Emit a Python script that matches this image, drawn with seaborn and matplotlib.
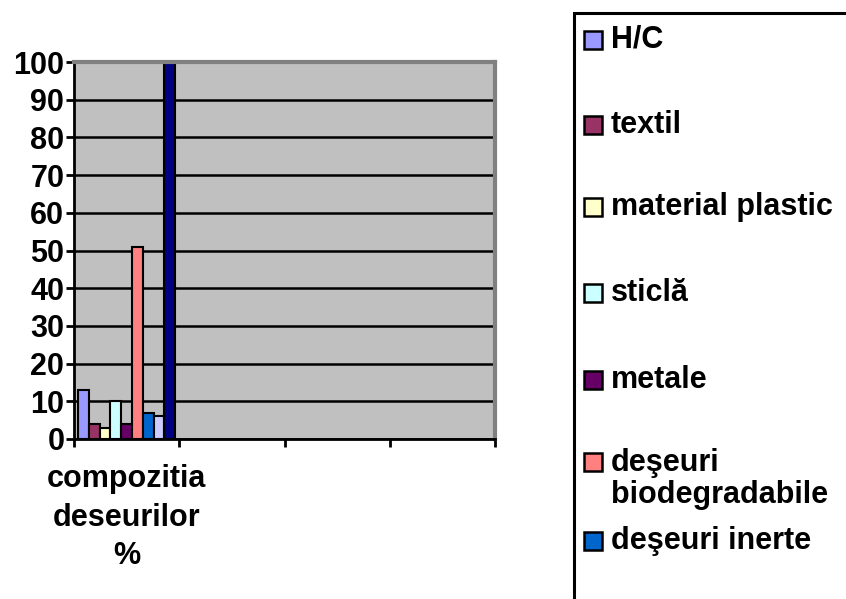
import pandas as pd
import matplotlib.pyplot as plt
import seaborn as sns
from matplotlib.patches import Rectangle

# date
categorii = ["compozitia\ndeseurilor\n%", " ", "  ", "   "]
materiale = ["H/C", "textil", "material plastic", "sticlă", "metale",
             "deşeuri\nbiodegradabile", "deşeuri inerte", "altele", "total"]
procente = [13, 4, 3, 10, 4, 51, 7, 6, 100]
culori = ["#9999FF", "#993366", "#FFFFCC", "#CCFFFF", "#660066",
          "#FF8080", "#0066CC", "#CCCCFF", "#000080"]
yticks = list(range(0, 101, 10))

df = pd.DataFrame({"categorie": categorii[0], "material": materiale, "procent": procente})

sns.set_style("white")
plt.rcParams["font.family"] = ["Liberation Sans", "DejaVu Sans"]
plt.rcParams["font.weight"] = "bold"
plt.rcParams["text.color"] = "black"
plt.rcParams["xtick.labelcolor"] = "black"
plt.rcParams["ytick.labelcolor"] = "black"

FS = 22
W, H = 846, 599
fig = plt.figure(figsize=(W / 100, H / 100), dpi=100)
ax = fig.add_axes([74 / W, 1 - 439 / H, (495 - 74) / W, (439 - 62) / H])

sns.barplot(data=df, x="categorie", y="procent", hue="material", order=categorii,
            hue_order=materiale, palette=culori, width=0.92, saturation=1,
            edgecolor="black", linewidth=1.5, legend=False, ax=ax)

ax.set_facecolor("#C0C0C0")
ax.set_ylim(0, 100)
ax.set_xlim(-0.5, len(categorii) - 0.5)
ax.set_yticks(yticks)
ax.set_axisbelow(True)
ax.yaxis.grid(True, color="black", linewidth=1.8)
ax.set_xlabel("")
ax.set_ylabel("")

ax.tick_params(axis="y", length=6, width=2, direction="out", labelsize=FS, pad=1, color="black", left=True)
ax.set_xticks(range(len(categorii)))
ax.set_xticklabels(categorii, fontsize=FS, fontweight="bold", linespacing=1.38)
ax.tick_params(axis="x", which="major", length=0, pad=18)
ax.set_xticks([i - 0.5 for i in range(len(categorii) + 1)], minor=True)
ax.tick_params(axis="x", which="minor", length=6, width=2, color="black", bottom=True)

for s in ["left", "bottom"]:
    ax.spines[s].set_color("black")
    ax.spines[s].set_linewidth(2)
for s in ["top", "right"]:
    ax.spines[s].set_color("#808080")
    ax.spines[s].set_linewidth(3)

# legenda (chenar care iese din imagine, ca in original)
fig.patches.append(Rectangle((574 / W, 1 - 620 / H), 300 / W, 607 / H,
                             transform=fig.transFigure, fill=False,
                             edgecolor="black", linewidth=2.2))
leg_y = [40, 125, 207, 293, 380, 462, 541]
for i, y in enumerate(leg_y):
    fig.patches.append(Rectangle((584 / W, 1 - (y + 9) / H), 18 / W, 18 / H,
                                 transform=fig.transFigure, facecolor=culori[i],
                                 edgecolor="black", linewidth=1.8))
    ty = y if "\n" not in materiale[i] else y + 17
    fig.text(611 / W, 1 - ty / H, materiale[i], fontsize=FS, fontweight="bold",
             va="center", ha="left", linespacing=1.1)

fig.savefig("out.png", dpi=100)
